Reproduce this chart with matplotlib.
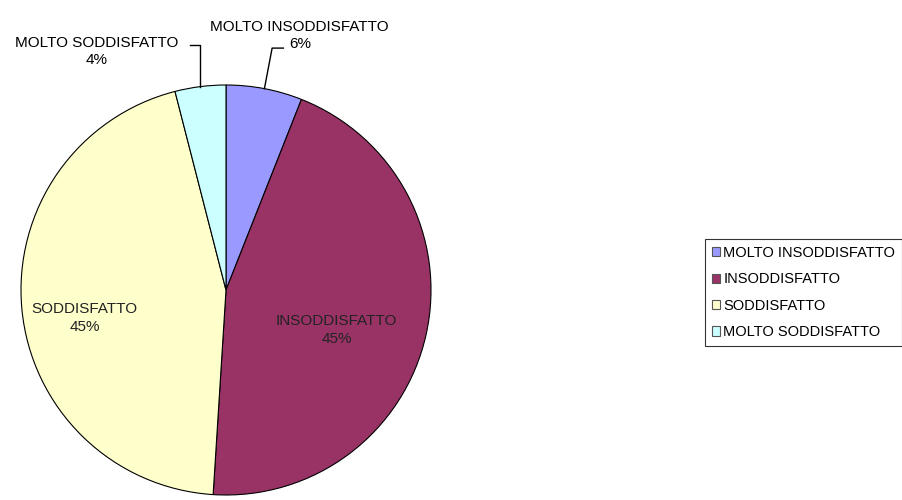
import matplotlib
matplotlib.use("Agg")
import matplotlib.pyplot as plt
import numpy as np
from matplotlib.patches import Rectangle

categories = ["MOLTO INSODDISFATTO", "INSODDISFATTO", "SODDISFATTO", "MOLTO SODDISFATTO"]
values = [6, 45, 45, 4]
pct_labels = ["6%", "45%", "45%", "4%"]
colors = ["#9999FF", "#993366", "#FFFFCC", "#CCFFFF"]

plt.rcParams['font.family'] = ['Liberation Sans', 'DejaVu Sans']

W, H = 902, 500
fig = plt.figure(figsize=(W/100, H/100), dpi=100)
cx, cy, R = 226, 290, 205
ax = fig.add_axes([(cx-R)/W, (H-cy-R)/H, 2*R/W, 2*R/H])
wedges, _ = ax.pie(values, colors=colors, startangle=90, counterclock=False,
                   radius=1.0, wedgeprops=dict(edgecolor="black", linewidth=0.8))
ax.set_xlim(-1, 1); ax.set_ylim(-1, 1)
ax.set_aspect('equal')
ax.axis('off')

fs = 11
ls = 1.3
# inside labels for big slices
ax.text(0.54, -0.195, f"{categories[1]}\n{pct_labels[1]}", ha='center', va='center', fontsize=fs, color='#222222', linespacing=ls)
ax.text(-0.69, -0.137, f"{categories[2]}\n{pct_labels[2]}", ha='center', va='center', fontsize=fs, color='#222222', linespacing=ls)

# outside labels with leader lines
def mid_angle(i):
    cum = sum(values[:i]) + values[i] / 2
    return np.deg2rad(90 - 360 * cum / sum(values))

a0 = mid_angle(0)
p0 = (np.cos(a0), np.sin(a0))
ax.plot([p0[0], 0.225, 0.28], [p0[1], 1.18, 1.18], color='black', lw=1, clip_on=False)
ax.text(0.36, 1.24, f"{categories[0]}\n{pct_labels[0]}", ha='center', va='center', fontsize=fs, linespacing=ls)

a3 = mid_angle(3)
p3 = (np.cos(a3), np.sin(a3))
ax.plot([p3[0], p3[0], -0.175], [p3[1], 1.195, 1.195], color='black', lw=1, clip_on=False)
ax.text(-0.63, 1.165, f"{categories[3]}\n{pct_labels[3]}", ha='center', va='center', fontsize=fs, linespacing=ls)

handles = [Rectangle((0, 0), 1, 1, facecolor=c, edgecolor='#555555', linewidth=0.8) for c in colors]
leg = fig.legend(handles, categories, loc='center left', bbox_to_anchor=(705/W, 1 - 292.5/H),
                 fontsize=10.5, handlelength=0.6, handleheight=0.6, handletextpad=0.2,
                 frameon=True, fancybox=False, borderpad=0.45, labelspacing=0.85, borderaxespad=0)
leg.get_frame().set_edgecolor('black')
leg.get_frame().set_linewidth(0.8)

fig.savefig("out.png", dpi=100)
